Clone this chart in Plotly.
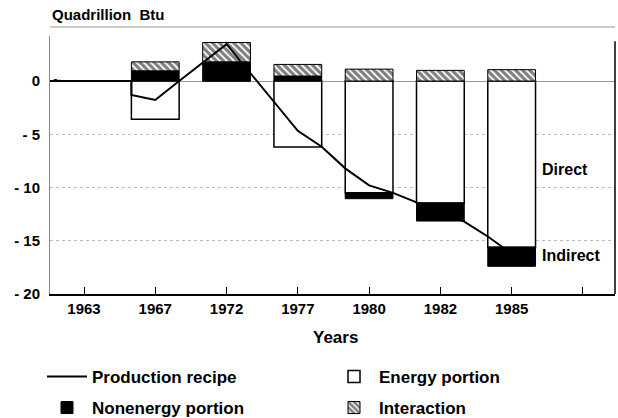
import plotly.graph_objects as go

# categories (last tick is blank in the original)
years = ["1963", "1967", "1972", "1977", "1980", "1982", "1985", ""]

# decomposition of the change, quadrillion Btu
energy = [None, -3.6, 0, -6.2, -10.5, -11.45, -15.6]
nonenergy = [None, 0.96, 1.8, 0.47, -0.55, -1.7, -1.8]
interaction = [None, 0.84, 1.82, 1.09, 1.12, 1.0, 1.07]

# production recipe line (x in category units)
recipe_x = [-0.5, 0.665, 0.665, 1.0, 1.335, 2.0, 3.0, 3.335, 3.665, 4.0,
            4.335, 4.665, 5.0, 5.335, 5.665, 6.0]
recipe_y = [0, 0, -1.3, -1.78, 0, 3.46, -4.67, -6.17, -8.2, -9.8,
            -10.5, -11.4, -12.3, -13.2, -14.6, -16.2]

FONT = "Liberation Sans, Arial, sans-serif"
bold = dict(family=FONT, size=15, color="black", weight="bold")
big = dict(family=FONT, size=16, color="black", weight="bold")
leg = dict(family=FONT, size=17, color="black", weight="bold")
idx = list(range(len(energy)))

fig = go.Figure()
fig.add_bar(x=idx, y=energy, name="Energy portion", legend="legend2",
            marker=dict(color="white", line=dict(color="black", width=1.5)))
fig.add_bar(x=idx, y=nonenergy, name="Nonenergy portion", legend="legend3",
            marker=dict(color="black", line=dict(color="black", width=1)))
fig.add_bar(x=idx, y=interaction, name="Interaction", legend="legend4",
            marker=dict(color="white", line=dict(color="black", width=1),
                        pattern=dict(shape="\\", fgcolor="black", bgcolor="white",
                                     size=5, solidity=0.65)))
fig.add_scatter(x=recipe_x, y=recipe_y, mode="lines", name="Production recipe",
                legend="legend", showlegend=True, line=dict(color="black", width=2))


def legend_at(px, py):
    return dict(orientation="h", xref="container", yref="container",
                x=px / 618, y=1 - py / 418, xanchor="left", yanchor="middle",
                itemwidth=40, font=leg, bgcolor="rgba(0,0,0,0)")


fig.update_layout(
    width=618, height=418,
    margin=dict(l=50, r=3, t=36, b=124),
    plot_bgcolor="white", paper_bgcolor="white",
    barmode="relative", bargap=0.33,
    font=bold, showlegend=True,
    xaxis=dict(range=[-0.477, 7.45], tickvals=list(range(len(years))), ticktext=years,
               ticks="inside", ticklen=7, tickcolor="black", tickwidth=1,
               showline=True, linecolor="black", linewidth=1.5, automargin=False,
               showgrid=False, zeroline=False, tickfont=bold),
    yaxis=dict(range=[-20, 4.23], tickvals=[0, -5, -10, -15, -20],
               ticktext=["0", "- 5", "- 10", "- 15", "- 20"],
               showline=True, linecolor="#888", linewidth=1, automargin=False,
               showgrid=True, gridcolor="#bbb", griddash="dot", gridwidth=1,
               zeroline=True, zerolinecolor="#999", zerolinewidth=1,
               ticks="", ticklabelstandoff=6, tickfont=bold),
    legend=legend_at(42, 377),
    legend2=legend_at(329, 377),
    legend3=legend_at(42, 408),
    legend4=legend_at(329, 408),
    annotations=[
        dict(text="Quadrillion  Btu", xref="paper", yref="paper", x=0, y=1.085,
             xanchor="left", yanchor="middle", showarrow=False, font=bold),
        dict(text="Years", xref="paper", yref="paper", x=0.506, y=-0.167,
             xanchor="center", yanchor="middle", showarrow=False, font=leg),
        dict(text="Direct", x=6.4, y=-8.3, xanchor="left", yanchor="middle",
             showarrow=False, font=big),
        dict(text="Indirect", x=6.4, y=-16.4, xanchor="left", yanchor="middle",
             showarrow=False, font=big),
        dict(text="~", xref="paper", x=0.012, y=0, xanchor="center", yanchor="middle",
             showarrow=False, font=dict(family=FONT, size=12, color="black")),
    ],
    shapes=[
        dict(type="line", xref="paper", yref="paper", x0=0, x1=1, y0=1.035, y1=1.035,
             line=dict(color="#999", width=1)),
        dict(type="line", xref="paper", yref="paper", x0=1, x1=1, y0=0, y1=0.98,
             line=dict(color="black", width=1.5)),
    ],
)

fig.write_html("out.html", config={"displayModeBar": False})

# drop the browser's default 8px body margin so the figure sits at the page corner
with open("out.html", encoding="utf-8") as f:
    html = f.read()
html = html.replace("<body>", '<body style="margin:0">', 1)
with open("out.html", "w", encoding="utf-8") as f:
    f.write(html)
